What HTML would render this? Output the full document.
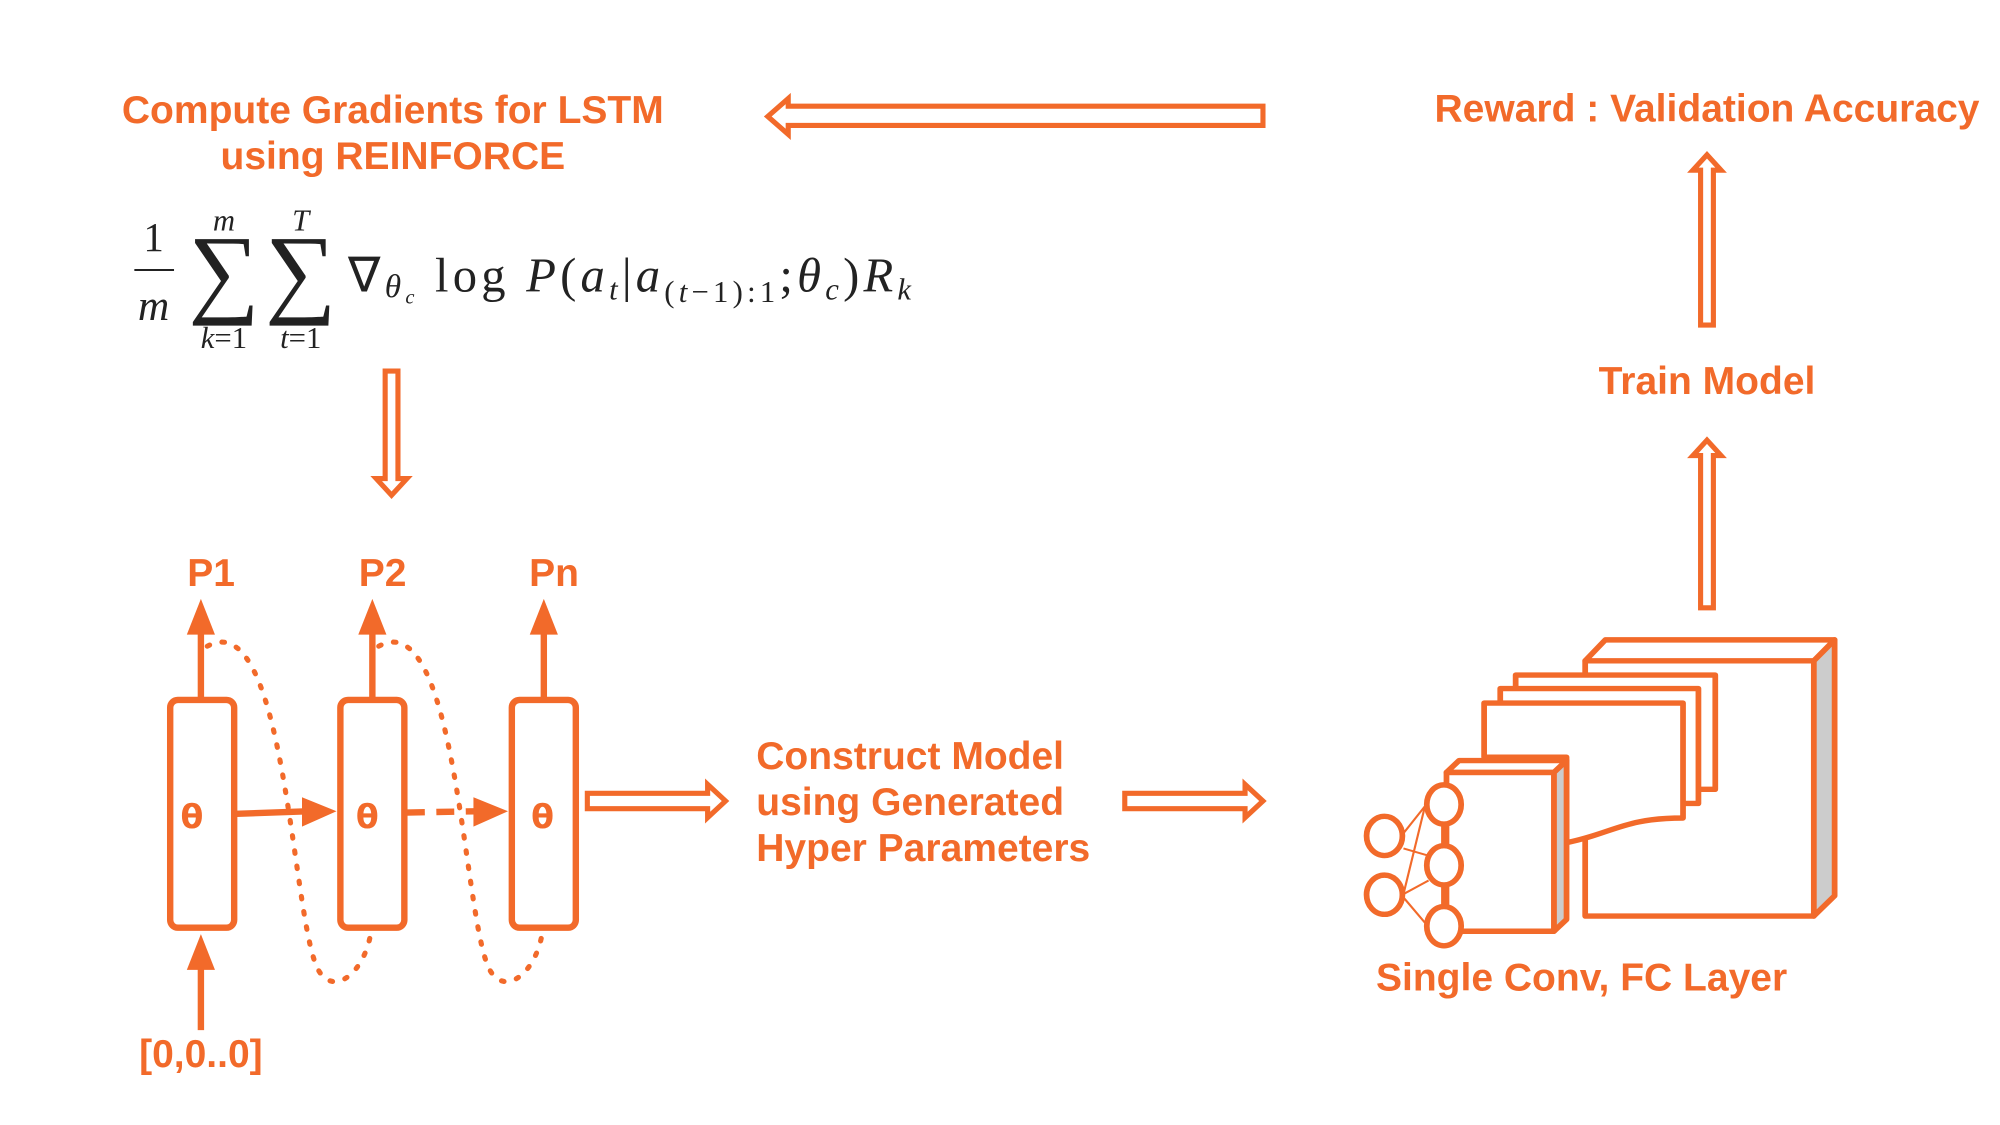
<!DOCTYPE html>
<html><head><meta charset="utf-8"><style>
html,body{margin:0;padding:0;background:#fff;width:2000px;height:1125px;overflow:hidden}
svg{display:block}
.t{font-family:"Liberation Sans",sans-serif;font-weight:bold;fill:#f26a2a;font-size:30.5px}
.m{font-family:"Liberation Serif",serif;fill:#222}
</style></head><body>
<svg width="2000" height="1125" viewBox="0 0 2000 1125" xmlns="http://www.w3.org/2000/svg">
<g transform="scale(1.2796)">
<g stroke="#f26a2a" fill="none" stroke-width="4">
<path d="M987,83 L616,83 L616,77 L600,91 L616,105 L616,98 L987,98 Z" fill="#fff"/>
<path d="M1329,254 L1329,133 L1323,133 L1334,121 L1345,133 L1339,133 L1339,254 Z" fill="#fff"/>
<path d="M1329,475 L1329,356 L1323,356 L1334,344 L1345,356 L1339,356 L1339,475 Z" fill="#fff"/>
<path d="M301,290 L301,374 L294,374 L306,387 L318,374 L311,374 L311,290 Z" fill="#fff"/>
<path d="M459,620 L553,620 L553,613 L567,626 L553,639 L553,632 L459,632 Z" fill="#fff"/>
<path d="M879,620 L973,620 L973,613 L987,626 L973,639 L973,632 L879,632 Z" fill="#fff"/>
</g>
<g stroke="#f26a2a" fill="none" stroke-width="5">
<rect x="133" y="547" width="50" height="178" rx="6"/>
<rect x="266" y="547" width="50" height="178" rx="6"/>
<rect x="400" y="547" width="50" height="178" rx="6"/>
<line x1="157" y1="545" x2="157" y2="490"/>
<line x1="291" y1="545" x2="291" y2="490"/>
<line x1="425" y1="545" x2="425" y2="490"/>
<line x1="157" y1="805" x2="157" y2="752"/>
<line x1="185" y1="636" x2="240" y2="634"/>
<line x1="318" y1="635" x2="372" y2="634" stroke-dasharray="14 9"/>
<path d="M162,505 C225,470 228,730 250,760 C262,778 285,760 290,728" stroke-width="4" stroke-dasharray="2 10" stroke-linecap="round"/>
<path d="M296,505 C359,470 362,730 384,760 C396,778 419,760 424,728" stroke-width="4" stroke-dasharray="2 10" stroke-linecap="round"/>
</g>
<g fill="#f26a2a">
<polygon points="146,496 168,496 157,468"/>
<polygon points="280,496 302,496 291,468"/>
<polygon points="414,496 436,496 425,468"/>
<polygon points="146,758 168,758 157,730"/>
<polygon points="236,623 236,646 263,634"/>
<polygon points="370,623 370,646 397,634"/>
</g>
<text class="t" x="307" y="96" text-anchor="middle">Compute Gradients for LSTM</text>
<text class="t" x="307" y="132" text-anchor="middle">using REINFORCE</text>
<text class="t" x="1334" y="95" text-anchor="middle">Reward : Validation Accuracy</text>
<text class="t" x="1334" y="308" text-anchor="middle">Train Model</text>
<text class="t" x="165" y="458" text-anchor="middle">P1</text>
<text class="t" x="299" y="458" text-anchor="middle">P2</text>
<text class="t" x="433" y="458" text-anchor="middle">Pn</text>
<text class="t" x="157" y="834" text-anchor="middle">[0,0..0]</text>
<text class="t" x="150" y="647" text-anchor="middle" style="font-family:'DejaVu Sans',sans-serif;font-size:26px">θ</text>
<text class="t" x="287" y="647" text-anchor="middle" style="font-family:'DejaVu Sans',sans-serif;font-size:26px">θ</text>
<text class="t" x="424" y="647" text-anchor="middle" style="font-family:'DejaVu Sans',sans-serif;font-size:26px">θ</text>
<text class="t" x="591" y="601">Construct Model</text>
<text class="t" x="591" y="637">using Generated</text>
<text class="t" x="591" y="673">Hyper Parameters</text>
<text class="t" x="1236" y="774" text-anchor="middle">Single Conv, FC Layer</text>
<g class="m">
<text x="120" y="196" font-size="32" text-anchor="middle">1</text>
<line x1="105" y1="211" x2="136" y2="211" stroke="#222" stroke-width="1.5"/>
<text x="120" y="250" font-size="34" font-style="italic" text-anchor="middle">m</text>
<text x="175" y="238" font-size="78" text-anchor="middle">∑</text>
<text x="235" y="238" font-size="78" text-anchor="middle">∑</text>
<text x="175" y="180" font-size="24" font-style="italic" text-anchor="middle">m</text>
<text x="235" y="180" font-size="24" font-style="italic" text-anchor="middle">T</text>
<text x="175" y="272" font-size="24" text-anchor="middle"><tspan font-style="italic">k</tspan>=1</text>
<text x="235" y="272" font-size="24" text-anchor="middle"><tspan font-style="italic">t</tspan>=1</text>
<text x="272" y="228" font-size="38" textLength="440">∇<tspan font-style="italic" font-size="26" dy="4">θ</tspan><tspan font-style="italic" font-size="16" dy="5">c</tspan><tspan dy="-9"> log </tspan><tspan font-style="italic">P</tspan>(<tspan font-style="italic">a</tspan><tspan font-style="italic" font-size="24" dy="6">t</tspan><tspan dy="-6">|</tspan><tspan font-style="italic">a</tspan><tspan font-size="24" dy="8">(<tspan font-style="italic">t</tspan>−1):1</tspan><tspan dy="-8">;</tspan><tspan font-style="italic">θ</tspan><tspan font-style="italic" font-size="24" dy="6">c</tspan><tspan dy="-6">)</tspan><tspan font-style="italic">R</tspan><tspan font-style="italic" font-size="24" dy="6">k</tspan></text>
</g>
</g>
<g transform="translate(1330,600) scale(0.3584,0.338)" stroke="#f26a2a" stroke-width="16" stroke-linejoin="round" fill="#fff">
<rect x="712" y="180" width="638" height="755"/>
<polygon points="712,180 768,118 1408,118 1350,180"/>
<polygon points="1350,180 1408,118 1408,875 1350,935" fill="#ccc"/>
<rect x="518" y="222" width="557" height="338"/>
<rect x="475" y="262" width="553" height="340"/>
<path d="M430,465 L430,305 L985,305 L985,645 C820,645 790,690 660,718 L660,465 Z"/>
<rect x="325" y="510" width="300" height="470"/>
<polygon points="325,510 360,475 660,475 625,510"/>
<polygon points="625,510 660,475 660,945 625,980" fill="#ccc"/>
<g stroke-width="6" fill="none">
<line x1="205" y1="690" x2="265" y2="610"/>
<line x1="205" y1="735" x2="270" y2="755"/>
<line x1="205" y1="870" x2="265" y2="610"/>
<line x1="205" y1="870" x2="275" y2="830"/>
<line x1="205" y1="880" x2="265" y2="955"/>
</g>
<line x1="318" y1="660" x2="318" y2="730" fill="none"/>
<line x1="318" y1="840" x2="318" y2="910" fill="none"/>
<ellipse cx="318" cy="605" rx="48" ry="58"/>
<ellipse cx="318" cy="785" rx="48" ry="58"/>
<ellipse cx="318" cy="965" rx="48" ry="58"/>
<ellipse cx="152" cy="698" rx="50" ry="58"/>
<ellipse cx="152" cy="872" rx="50" ry="58"/>
</g>
</svg>
</body></html>
